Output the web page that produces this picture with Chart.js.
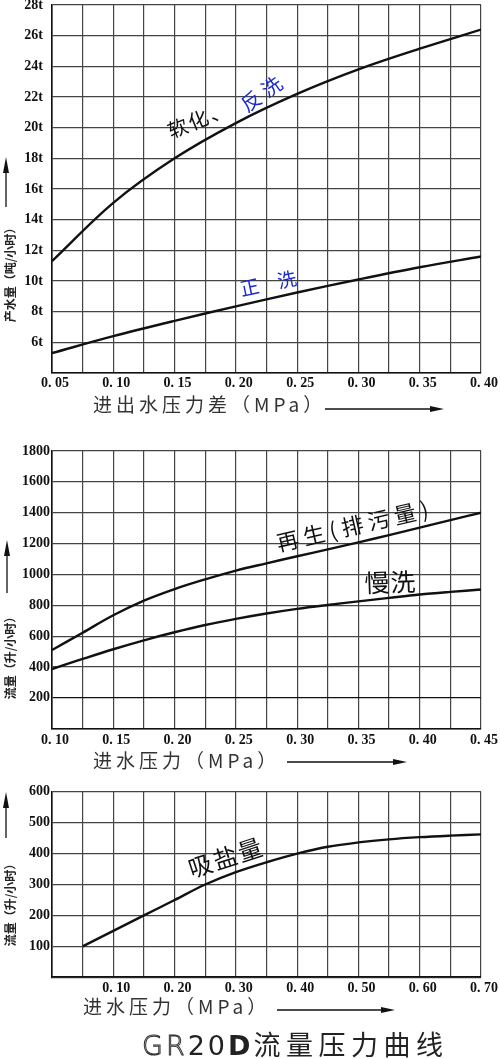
<!DOCTYPE html>
<html lang="zh">
<head>
<meta charset="UTF-8">
<title>GR20D流量压力曲线</title>
<script src="https://cdn.jsdelivr.net/npm/chart.js"></script>
<style>
  html, body { margin: 0; padding: 0; background: #fff; }
  body { width: 500px; height: 1059px; position: relative; overflow: hidden; }
  canvas { position: absolute; left: 0; }
  #c1 { top: 0; }
  #c2 { top: 430px; }
  #c3 { top: 775px; }
  #title {
    position: absolute; left: 142px; top: 1030px; z-index: 2;
    font-family: "Noto Sans CJK SC", sans-serif; font-size: 27px; line-height: 27px;
    letter-spacing: 3px; color: #222; white-space: nowrap;
  }
  #title .gr { font-family: "DejaVu Sans", sans-serif; font-weight: 300; color: #fff; -webkit-text-stroke: 1px #333; }
  #title .n { font-family: "DejaVu Sans", sans-serif; }
  #title b { font-family: "DejaVu Sans", sans-serif; font-weight: bold; }
  #title .cn { letter-spacing: 5.5px; }
</style>
</head>
<body>
<canvas id="c1" width="500" height="430"></canvas>
<canvas id="c2" width="500" height="345"></canvas>
<canvas id="c3" width="500" height="284"></canvas>
<div id="title"><span class="gr">GR</span><span class="n">20</span><b>D</b><span class="cn">流量压力曲线</span></div>

<script>
// 图1 产水量 — 进出水压力差
const press1 = [0.05, 0.10, 0.15, 0.20, 0.25, 0.30, 0.35, 0.40];
const soften1 = [11.3, 15.1, 18.0, 20.3, 22.2, 23.8, 25.15, 26.4];
const rinse1 = [5.3, 6.4, 7.4, 8.35, 9.25, 10.1, 10.9, 11.6];
const xTicks1 = ['0. 05', '0. 10', '0. 15', '0. 20', '0. 25', '0. 30', '0. 35', '0. 40'];
const yTicks1 = ['6t', '8t', '10t', '12t', '14t', '16t', '18t', '20t', '22t', '24t', '26t', '28t'];

// 图2 流量 — 进水压力
const press2 = [0.10, 0.125, 0.15, 0.175, 0.20, 0.225, 0.25, 0.275, 0.30, 0.325, 0.35, 0.375, 0.40, 0.425, 0.45];
const regen2 = [510, 622, 735, 830, 905, 968, 1025, 1072, 1118, 1162, 1208, 1255, 1303, 1352, 1400];
const slow2 = [387, 452, 515, 573, 625, 672, 712, 747, 777, 802, 825, 848, 870, 887, 902];
const xTicks2 = ['0. 10', '0. 15', '0. 20', '0. 25', '0. 30', '0. 35', '0. 40', '0. 45'];
const yTicks2 = ['200', '400', '600', '800', '1000', '1200', '1400', '1600', '1800'];

// 图3 吸盐量
const press3 = [0.05, 0.10, 0.15, 0.20, 0.25, 0.30, 0.35, 0.40, 0.45, 0.50, 0.55, 0.60, 0.65, 0.70];
const brine3 = [100, 150, 200, 250, 300, 340, 372, 400, 422, 436, 446, 453, 458, 462];
const xTicks3 = ['0. 10', '0. 20', '0. 30', '0. 40', '0. 50', '0. 60', '0. 70'];
const yTicks3 = ['100', '200', '300', '400', '500', '600'];

const toPts = (xs, ys) => xs.map((x, i) => ({ x: x, y: ys[i] }));

function labelFor(v, first, step, labels) {
  const k = (v - first) / step;
  const r = Math.round(k);
  if (Math.abs(k - r) > 1e-6 || labels[r] === undefined) return '';
  return labels[r];
}

const CJK = '"Noto Sans CJK SC", sans-serif';

// 曲线说明文字、坐标轴标题和箭头
const notesPlugin = {
  id: 'notes',
  afterDraw(chart, args, opts) {
    const ctx = chart.ctx;
    const xs = chart.scales.x, ys = chart.scales.y;
    ctx.save();
    (opts.labels || []).forEach(t => {
      ctx.save();
      ctx.translate(xs.getPixelForValue(t.x), ys.getPixelForValue(t.y));
      ctx.rotate(t.rot * Math.PI / 180);
      ctx.font = t.size + 'px ' + CJK;
      ctx.letterSpacing = (t.spacing || 0) + 'px';
      ctx.fillStyle = t.color || '#111';
      ctx.textAlign = 'center';
      ctx.textBaseline = 'middle';
      ctx.fillText(t.text, 0, 0);
      ctx.restore();
    });

    const xt = opts.xTitle;
    if (xt) {
      ctx.font = '19px ' + CJK;
      ctx.letterSpacing = '4px';
      ctx.fillStyle = '#333';
      ctx.textAlign = 'left';
      ctx.textBaseline = 'middle';
      ctx.fillText(xt.text, xt.x, xt.y);
      ctx.letterSpacing = '0px';
      ctx.strokeStyle = '#111';
      ctx.lineWidth = 1.3;
      ctx.beginPath();
      ctx.moveTo(xt.a0, xt.ay);
      ctx.lineTo(xt.a1 - 10, xt.ay);
      ctx.stroke();
      ctx.fillStyle = '#111';
      ctx.beginPath();
      ctx.moveTo(xt.a1, xt.ay);
      ctx.lineTo(xt.a1 - 14, xt.ay - 3);
      ctx.lineTo(xt.a1 - 14, xt.ay + 3);
      ctx.closePath();
      ctx.fill();
    }

    const yt = opts.yTitle;
    if (yt) {
      ctx.save();
      ctx.translate(yt.x, yt.y);
      ctx.rotate(-Math.PI / 2);
      ctx.font = 'bold 12px ' + CJK;
      ctx.fillStyle = '#222';
      ctx.textAlign = 'center';
      ctx.textBaseline = 'middle';
      ctx.fillText(yt.text, 0, 0);
      ctx.restore();
      ctx.strokeStyle = '#111';
      ctx.lineWidth = 1.3;
      ctx.beginPath();
      ctx.moveTo(yt.ax, yt.a0);
      ctx.lineTo(yt.ax, yt.a1 + 10);
      ctx.stroke();
      ctx.fillStyle = '#111';
      ctx.beginPath();
      ctx.moveTo(yt.ax, yt.a1);
      ctx.lineTo(yt.ax - 3, yt.a1 + 16);
      ctx.lineTo(yt.ax + 3, yt.a1 + 16);
      ctx.closePath();
      ctx.fill();
    }
    ctx.restore();
  }
};

const tickFont = { family: '"Liberation Serif", serif', weight: 'bold', size: 14 };

function makeChart(id, cfg) {
  return new Chart(document.getElementById(id), {
    type: 'line',
    data: {
      datasets: cfg.series.map(s => ({
        data: s,
        borderColor: '#111',
        borderWidth: 2.4,
        pointRadius: 0,
        fill: false,
        tension: 0.35
      }))
    },
    options: {
      responsive: false,
      animation: false,
      events: [],
      layout: { padding: cfg.padding },
      plugins: {
        legend: { display: false },
        tooltip: { enabled: false },
        notes: cfg.notes
      },
      scales: {
        x: {
          type: 'linear',
          min: cfg.xMin, max: cfg.xMax,
          ticks: {
            stepSize: cfg.xStep, autoSkip: false, maxRotation: 0, minRotation: 0,
            padding: cfg.xPad, labelOffset: 3, color: '#111', font: tickFont,
            callback: v => labelFor(v, cfg.xFirst, cfg.xLabelStep, cfg.xLabels)
          },
          grid: { color: '#444', lineWidth: 1.2, drawTicks: false },
          border: { color: '#111', width: 1.6 },
          afterFit: s => { s.height = 30; s.paddingLeft = 0; s.paddingRight = 0; }
        },
        y: {
          min: cfg.yMin, max: cfg.yMax,
          ticks: {
            stepSize: cfg.yStep, autoSkip: false, padding: cfg.yPad, color: '#111', font: tickFont,
            callback: v => labelFor(v, cfg.yFirst, cfg.yStep, cfg.yLabels)
          },
          grid: { color: cfg.gridColor || '#444', lineWidth: 1.2, drawTicks: false },
          border: { color: '#111', width: 1.6 },
          afterFit: s => { s.width = 52; s.paddingTop = 0; s.paddingBottom = 0; }
        }
      }
    },
    plugins: [notesPlugin]
  });
}

makeChart('c1', {
  series: [toPts(press1, soften1), toPts(press1, rinse1)],
  padding: { left: 0, right: 19, top: 5, bottom: 27 },
  xMin: 0.05, xMax: 0.40, xStep: 0.025, xFirst: 0.05, xLabelStep: 0.05, xLabels: xTicks1, xPad: 2,
  yMin: 4, yMax: 28, yStep: 2, yFirst: 6, yLabels: yTicks1, yPad: 9,
  notes: {
    labels: [
      { text: '软化、', x: 0.170, y: 20.55, rot: -22, size: 20, spacing: 2 },
      { text: '反洗', x: 0.2224, y: 22.3, rot: -35, size: 20, spacing: 5, color: '#1a2bd0' },
      { text: '正\u3000洗', x: 0.2263, y: 9.85, rot: -12, size: 19, color: '#1a2bd0' }
    ],
    xTitle: { text: '进出水压力差（MPa）', x: 93, y: 405, a0: 325, a1: 444, ay: 409 },
    yTitle: { text: '产水量（吨/小时）', x: 10, y: 272, ax: 6, a0: 207, a1: 157 }
  }
});

makeChart('c2', {
  series: [toPts(press2, regen2), toPts(press2, slow2)],
  padding: { left: 0, right: 19, top: 21, bottom: 16.3 },
  xMin: 0.10, xMax: 0.45, xStep: 0.025, xFirst: 0.10, xLabelStep: 0.05, xLabels: xTicks2, xPad: 3,
  yMin: 0, yMax: 1800, yStep: 200, yFirst: 200, yLabels: yTicks2, yPad: 2,
  gridColor: c => (c.tick && c.tick.value === 200 ? '#111' : '#444'),
  notes: {
    labels: [
      { text: '再生(排污量)', x: 0.347, y: 1318, rot: -13, size: 22, spacing: 5 },
      { text: '慢洗', x: 0.376, y: 950, rot: -2, size: 25, spacing: 1 }
    ],
    xTitle: { text: '进水压力（MPa）', x: 93, y: 331, a0: 287, a1: 407, ay: 332 },
    yTitle: { text: '流量（升/小时）', x: 10, y: 225, ax: 7, a0: 163, a1: 110 }
  }
});

makeChart('c3', {
  series: [toPts(press3, brine3)],
  padding: { left: 0, right: 19, top: 16.7, bottom: 51.7 },
  xMin: 0, xMax: 0.70, xStep: 0.05, xFirst: 0, xLabelStep: 0.10, xLabels: [''].concat(xTicks3), xPad: 3,
  yMin: 0, yMax: 600, yStep: 100, yFirst: 100, yLabels: yTicks3, yPad: 2,
  notes: {
    labels: [
      { text: '吸盐量', x: 0.284, y: 388, rot: -18, size: 24, spacing: 2 }
    ],
    xTitle: { text: '进水压力（MPa）', x: 83, y: 232, a0: 277, a1: 395, ay: 235 },
    yTitle: { text: '流量（升/小时）', x: 10, y: 127, ax: 6, a0: 63, a1: 17 }
  }
});
</script>
</body>
</html>
